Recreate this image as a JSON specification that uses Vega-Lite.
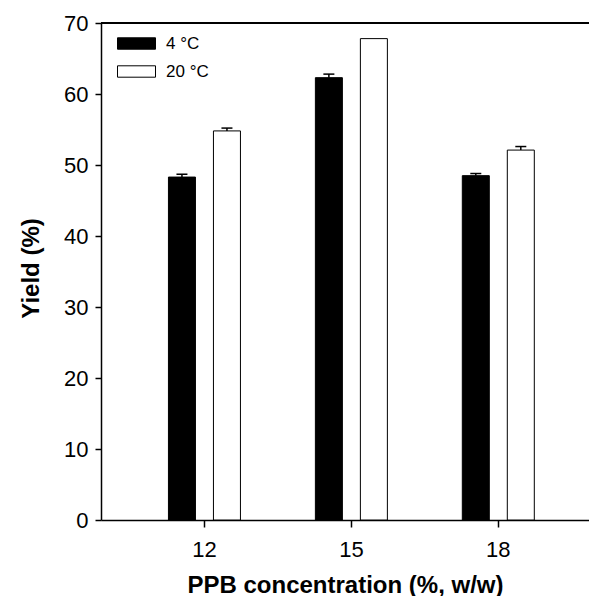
{
  "$schema": "https://vega.github.io/schema/vega-lite/v6.json",
  "width": 488,
  "height": 497,
  "autosize": {"type": "none"},
  "padding": {"left": 101, "top": 23, "right": 0, "bottom": 76},
  "config": {
    "font": "Liberation Sans",
    "view": {"stroke": null},
    "axis": {"domainColor": "black", "domainWidth": 1.5, "tickColor": "black", "tickWidth": 1.5, "labelColor": "black", "titleColor": "black", "grid": false}
  },
  "data": {
    "values": [
      {"conc": 12, "temp": "4 °C", "yield": 48.3, "upper": 48.7},
      {"conc": 12, "temp": "20 °C", "yield": 54.8, "upper": 55.2},
      {"conc": 15, "temp": "4 °C", "yield": 62.3, "upper": 62.8},
      {"conc": 15, "temp": "20 °C", "yield": 67.8, "upper": 67.8},
      {"conc": 18, "temp": "4 °C", "yield": 48.5, "upper": 48.8},
      {"conc": 18, "temp": "20 °C", "yield": 52.1, "upper": 52.6}
    ]
  },
  "layer": [
    {
      "encoding": {"y": {"datum": 70, "type": "quantitative"}},
      "mark": {"type": "rule", "color": "black", "strokeWidth": 1.5}
    },
    {
      "encoding": {
        "x": {
          "field": "conc", "type": "quantitative",
          "scale": {"domain": [10, 19.76], "nice": false, "zero": false},
          "axis": {"values": [12, 15, 18], "title": "PPB concentration (%, w/w)", "labelFontSize": 22, "tickSize": 7, "labelPadding": 12, "titleFontSize": 24, "titleFontWeight": "bold", "titleBaseline": "alphabetic", "titleY": 72}
        },
        "y": {
          "field": "yield", "type": "quantitative",
          "scale": {"domain": [0, 70], "nice": false},
          "axis": {"values": [0, 10, 20, 30, 40, 50, 60, 70], "title": "Yield (%)", "labelFontSize": 22, "tickSize": 6, "labelPadding": 7, "titleFontSize": 24, "titleFontWeight": "bold", "titleBaseline": "alphabetic", "titleX": -63, "titleY": 245, "titleAngle": 270}
        }
      },
      "layer": [
        {
          "transform": [{"filter": "datum.temp === '4 °C'"}],
          "layer": [
            {
              "mark": {"type": "bar", "width": 27, "xOffset": -22, "stroke": "black", "strokeWidth": 1},
              "encoding": {
                "fill": {
                  "field": "temp", "type": "nominal",
                  "scale": {"domain": ["4 °C", "20 °C"], "range": ["black", "white"]},
                  "legend": {
                    "title": null, "orient": "none", "legendX": 16, "legendY": 1,
                    "symbolType": "M-1,-0.3H1V0.3H-1Z", "symbolSize": 1444, "symbolStrokeColor": "black", "symbolStrokeWidth": 1,
                    "labelFontSize": 17, "labelColor": "black", "labelOffset": 10, "rowPadding": -8, "padding": 0
                  }
                }
              }
            },
            {
              "transform": [{"filter": "datum.upper > datum.yield"}],
              "layer": [
                {
                  "mark": {"type": "rule", "xOffset": -22, "color": "black", "strokeWidth": 1.5},
                  "encoding": {"y2": {"field": "upper"}}
                },
                {
                  "mark": {"type": "tick", "orient": "horizontal", "size": 11, "thickness": 1.5, "xOffset": -22, "color": "black", "opacity": 1},
                  "encoding": {"y": {"field": "upper", "type": "quantitative"}}
                }
              ]
            }
          ]
        },
        {
          "transform": [{"filter": "datum.temp === '20 °C'"}],
          "layer": [
            {
              "transform": [{"filter": "datum.upper > datum.yield"}],
              "layer": [
                {
                  "mark": {"type": "rule", "xOffset": 23, "color": "black", "strokeWidth": 1.5},
                  "encoding": {"y2": {"field": "upper"}}
                },
                {
                  "mark": {"type": "tick", "orient": "horizontal", "size": 11, "thickness": 1.5, "xOffset": 23, "color": "black", "opacity": 1},
                  "encoding": {"y": {"field": "upper", "type": "quantitative"}}
                }
              ]
            },
            {
              "mark": {"type": "bar", "width": 27, "xOffset": 23, "stroke": "black", "strokeWidth": 1},
              "encoding": {"fill": {"field": "temp", "type": "nominal"}}
            }
          ]
        }
      ]
    }
  ]
}
